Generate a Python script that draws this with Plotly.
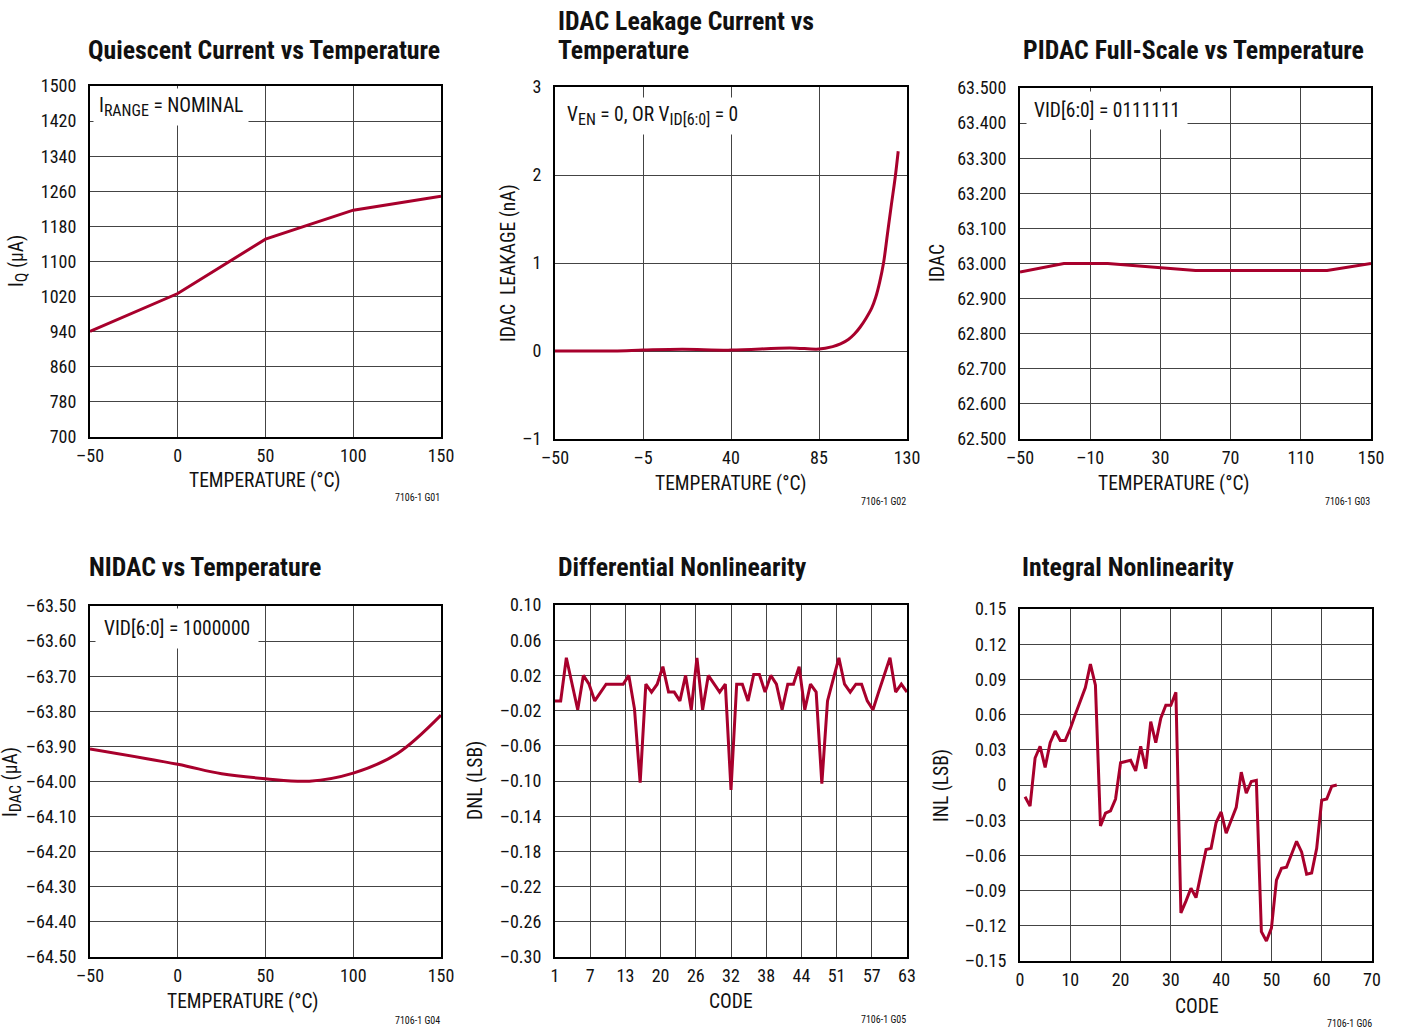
import plotly.graph_objects as go

W, H = 1402, 1030
RED = '#A8002C'
FONT = 'Liberation Sans Narrow, Arial Narrow, Roboto Condensed, Roboto, Liberation Sans, sans-serif'

# ---------------- data ----------------
iq_temp = [-50, 0, 50, 100, 150]
iq_ua = [941, 1027, 1151, 1217, 1249]

leak_temp = [-50, -20, -5, 15, 40, 70, 85, 92, 96, 100, 103, 106, 109, 112, 114, 116, 118,
             120, 122, 124, 125.5]
leak_na = [0.0, 0.0, 0.01, 0.02, 0.01, 0.035, 0.022, 0.05, 0.08, 0.13, 0.19, 0.27, 0.37,
           0.49, 0.61, 0.78, 1.0, 1.33, 1.66, 1.98, 2.27]

pidac_temp = [-50, -25, 0, 30, 50, 125, 150]
pidac_val = [62.976, 63.0, 63.0, 62.989, 62.98, 62.98, 63.0]

nidac_temp = [-50, 0, 25, 50, 75, 100, 125, 150]
nidac_val = [-63.907, -63.951, -63.978, -63.992, -63.999, -63.976, -63.921, -63.811]

dnl_code = list(range(1, 64))
dnl_lsb = [-0.009, -0.009, 0.040, 0.010, -0.019, 0.020, 0.010, -0.009, 0.001, 0.010,
           0.010, 0.010, 0.010, 0.020, -0.018, -0.102, 0.010, 0.001, 0.010, 0.030,
           0.001, 0.001, -0.009, 0.020, -0.019, 0.040, -0.019, 0.020, 0.010, 0.001,
           0.010, -0.110, 0.010, 0.010, -0.009, 0.021, 0.021, 0.001, 0.020, 0.010,
           -0.019, 0.010, 0.010, 0.030, -0.019, 0.010, 0.001, -0.103, -0.009, 0.014,
           0.040, 0.010, 0.001, 0.010, 0.010, -0.009, -0.019, 0.001, 0.021, 0.040,
           0.001, 0.010, 0.001]

inl_code = list(range(1, 64))
inl_lsb = [-0.010, -0.018, 0.023, 0.033, 0.015, 0.036, 0.046, 0.038, 0.038, 0.048,
           0.060, 0.071, 0.083, 0.103, 0.085, -0.035, -0.024, -0.022, -0.012, 0.019,
           0.020, 0.021, 0.012, 0.033, 0.014, 0.054, 0.036, 0.057, 0.068, 0.068,
           0.079, -0.109, -0.099, -0.088, -0.096, -0.075, -0.055, -0.054, -0.032, -0.023,
           -0.041, -0.030, -0.019, 0.011, -0.007, 0.003, 0.004, -0.125, -0.133, -0.122,
           -0.081, -0.071, -0.070, -0.059, -0.048, -0.057, -0.076, -0.075, -0.054, -0.013,
           -0.012, -0.001, 0.000]

# tick values / labels
iq_yticks = list(range(700, 1501, 80))
t1_xticks = [-50, 0, 50, 100, 150]
leak_xticks = [-50, -5, 40, 85, 130]
leak_yticks = [-1, 0, 1, 2, 3]
pidac_xticks = [-50, -10, 30, 70, 110, 150]
pidac_yticks = [62.5, 62.6, 62.7, 62.8, 62.9, 63.0, 63.1, 63.2, 63.3, 63.4, 63.5]
nidac_yticks = [-64.5, -64.4, -64.3, -64.2, -64.1, -64.0, -63.9, -63.8, -63.7, -63.6, -63.5]
dnl_xlabels = ['1', '7', '13', '20', '26', '32', '38', '44', '51', '57', '63']
dnl_yticks = [0.10, 0.06, 0.02, -0.02, -0.06, -0.10, -0.14, -0.18, -0.22, -0.26, -0.30]
inl_xticks = [0, 10, 20, 30, 40, 50, 60, 70]
inl_yticks = [0.15, 0.12, 0.09, 0.06, 0.03, 0, -0.03, -0.06, -0.09, -0.12, -0.15]


def lab(v, fmt):
    s = format(v, fmt)
    if s.startswith('-'):
        s = '\u2013' + s[1:]
    return s


# ---------------- layout helpers ----------------
def dom(x0, x1, y0, y1):
    return [x0 / W, x1 / W], [1 - y1 / H, 1 - y0 / H]


boxes = [
    (90, 441, 86, 437),
    (555, 907, 87, 439),
    (1020, 1371, 88, 439),
    (90, 441, 606, 957),
    (555, 907, 605, 957),
    (1020, 1372, 609, 961),
]

fig = go.Figure()
traces = [
    (iq_temp, iq_ua, 'linear'),
    (leak_temp, leak_na, 'spline'),
    (pidac_temp, pidac_val, 'linear'),
    (nidac_temp, nidac_val, 'spline'),
    (dnl_code, dnl_lsb, 'linear'),
    (inl_code, inl_lsb, 'linear'),
]
for i, (xs, ys, shape) in enumerate(traces):
    n = '' if i == 0 else str(i + 1)
    fig.add_trace(go.Scatter(x=xs, y=ys, mode='lines', xaxis='x' + n, yaxis='y' + n,
                             line=dict(color=RED, width=3, shape=shape,
                                       smoothing=1.0 if shape == 'spline' else None),
                             showlegend=False, hoverinfo='skip'))

dnl_xticks = [1 + 6.2 * k for k in range(len(dnl_xlabels))]

axes_spec = [
    ((-50, 150), t1_xticks, [lab(v, 'd') for v in t1_xticks],
     (700, 1500), iq_yticks, [str(v) for v in iq_yticks]),
    ((-50, 130), leak_xticks, [lab(v, 'd') for v in leak_xticks],
     (-1, 3), leak_yticks, [lab(v, 'd') for v in leak_yticks]),
    ((-50, 150), pidac_xticks, [lab(v, 'd') for v in pidac_xticks],
     (62.5, 63.5), pidac_yticks, [lab(v, '.3f') for v in pidac_yticks]),
    ((-50, 150), t1_xticks, [lab(v, 'd') for v in t1_xticks],
     (-64.5, -63.5), nidac_yticks, [lab(v, '.2f') for v in nidac_yticks]),
    ((1, 63), dnl_xticks, dnl_xlabels,
     (-0.30, 0.10), dnl_yticks, [lab(v, '.2f') for v in dnl_yticks]),
    ((0, 70), inl_xticks, [str(v) for v in inl_xticks],
     (-0.15, 0.15), inl_yticks, ['0' if v == 0 else lab(v, '.2f') for v in inl_yticks]),
]

common = dict(showline=True, mirror=True, linecolor='black', linewidth=2,
              showgrid=True, gridcolor='#444444', gridwidth=1, zeroline=False,
              ticks='', tickfont=dict(family=FONT, size=18, color='#111111'),
              fixedrange=True, tickmode='array', automargin=False)

layout = dict(width=W, height=H, margin=dict(l=0, r=0, t=0, b=0, pad=0), autosize=False,
              template='none',
              paper_bgcolor='white', plot_bgcolor='white',
              font=dict(family=FONT, size=18, color='#111111'))

for i, (box, spec) in enumerate(zip(boxes, axes_spec)):
    n = '' if i == 0 else str(i + 1)
    xd, yd = dom(*box)
    xr, xt, xl, yr, yt, yl = spec
    layout['xaxis' + n] = dict(common, domain=xd, range=list(xr), tickvals=xt, ticktext=xl,
                               anchor='y' + n, ticklabelstandoff=1)
    layout['yaxis' + n] = dict(common, domain=yd, range=list(yr), tickvals=yt, ticktext=yl,
                               anchor='x' + n, ticklabelstandoff=8)

fig.update_layout(**layout)

ann = []


def text(x, y, s, size=19.5, xa='center', ya='middle', angle=0, bg=None, pad=0, align='center'):
    d = dict(x=x / W, y=1 - y / H, xref='paper', yref='paper', text=s, showarrow=False,
             xanchor=xa, yanchor=ya, textangle=angle, align=align,
             font=dict(family=FONT, size=size, color='#111111'), borderpad=pad)
    if bg:
        d['bgcolor'] = bg
    ann.append(d)


def sub(s):
    return '<sub><span style="font-size:16px">' + s + '</span></sub>'


TS = 25.8
# titles
text(87, 50, '<b>Quiescent Current vs Temperature</b>', size=TS, xa='left')
text(557, 21, '<b>IDAC Leakage Current vs</b>', size=TS, xa='left')
text(557, 50, '<b>Temperature</b>', size=TS, xa='left')
text(1022, 50, '<b>PIDAC Full-Scale vs Temperature</b>', size=TS, xa='left')
text(88, 567, '<b>NIDAC vs Temperature</b>', size=TS, xa='left')
text(557, 567, '<b>Differential Nonlinearity</b>', size=TS, xa='left')
text(1021, 567, '<b>Integral Nonlinearity</b>', size=TS, xa='left')

# in-plot condition boxes
text(93, 88, 'I' + sub('RANGE') + ' = NOMINAL', xa='left', ya='top', bg='white', pad=5)
text(561, 97, 'V' + sub('EN') + ' = 0, OR V' + sub('ID[6:0]') + ' = 0',
     xa='left', ya='top', bg='white', pad=5)
text(1026, 91, 'VID[6:0] = 0111111', xa='left', ya='top', bg='white', pad=7)
text(95, 608, 'VID[6:0] = 1000000', xa='left', ya='top', bg='white', pad=8)

# axis titles
text(18, 261, 'I' + sub('Q') + ' (μA)', angle=-90)
text(508, 263, 'IDAC\u00a0 LEAKAGE (nA)', angle=-90)
text(937, 263, 'IDAC', angle=-90)
text(12, 782, 'I' + sub('DAC') + ' (μA)', angle=-90)
text(475, 781, 'DNL (LSB)', angle=-90)
text(941, 786, 'INL (LSB)', angle=-90)
text(265, 480, 'TEMPERATURE (°C)')
text(731, 484, 'TEMPERATURE (°C)')
text(1174, 484, 'TEMPERATURE (°C)')
text(243, 1001, 'TEMPERATURE (°C)')
text(731, 1001, 'CODE')
text(1197, 1006, 'CODE')

# figure ids
text(441, 498, '7106-1 G01', size=10, xa='right')
text(907, 501, '7106-1 G02', size=10, xa='right')
text(1371, 501, '7106-1 G03', size=10, xa='right')
text(441, 1020, '7106-1 G04', size=10, xa='right')
text(907, 1019, '7106-1 G05', size=10, xa='right')
text(1373, 1023, '7106-1 G06', size=10, xa='right')

fig.update_layout(annotations=ann)

fig.write_html("out.html", config={'displayModeBar': False},
               post_script="document.body.style.margin='0';")
